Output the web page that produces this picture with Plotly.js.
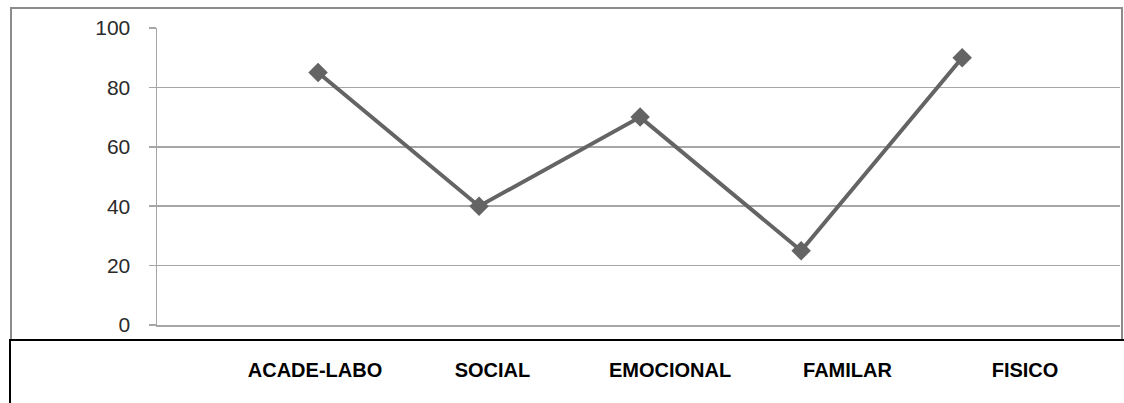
<!DOCTYPE html>
<html>
<head>
<meta charset="utf-8">
<script src="https://cdn.plot.ly/plotly-3.0.1.min.js"></script>
<style>html,body{margin:0;padding:0;background:#fff;}#chart{width:1124px;height:403px;}</style>
</head>
<body>
<div id="chart"></div>
<script>
// ---- data ----
var categories = ["ACADE-LABO", "SOCIAL", "EMOCIONAL", "FAMILAR", "FISICO"];
var values = [85, 40, 70, 25, 90];
var yTickValues = [0, 20, 40, 60, 80, 100];
var yTickLabels = ["0", "20", "40", "60", "80", "100"];

// ---- layout geometry (pixels) ----
var W = 1124, H = 403;
var L = 157, R = 1120, T = 28, B = 325;
function px(x) { return (x - L) / (R - L); }
function py(y) { return (B - y) / (B - T); }

var lineColor = "#646464";
var gridColor = "#a6a6a6";

var traces = [
  {
    x: categories,
    y: values,
    type: "scatter",
    mode: "lines+markers",
    line: { color: lineColor, width: 4 },
    marker: { symbol: "diamond", size: 15, color: lineColor },
    xaxis: "x",
    yaxis: "y",
    hoverinfo: "x+y"
  },
  {
    x: categories,
    y: values,
    type: "scatter",
    mode: "markers",
    marker: { opacity: 0, size: 1 },
    xaxis: "x2",
    yaxis: "y",
    hoverinfo: "skip",
    showlegend: false
  }
];

var n = categories.length;
var layout = {
  width: W,
  height: H,
  margin: { l: L, r: W - R, t: T, b: H - B, pad: 0 },
  paper_bgcolor: "#ffffff",
  plot_bgcolor: "#ffffff",
  showlegend: false,
  font: { family: "Liberation Sans, Arial, sans-serif", color: "#333333" },
  xaxis: {
    type: "category",
    range: [-1, n - 0.02],
    showgrid: false,
    zeroline: false,
    showticklabels: false,
    ticks: "",
    showline: true,
    linecolor: gridColor,
    linewidth: 1.5,
    fixedrange: true
  },
  xaxis2: {
    type: "category",
    overlaying: "x",
    anchor: "free",
    position: 0,
    side: "bottom",
    range: [-(315 - L) / 177.5, (n - 1) + (R - 1025) / 177.5],
    showgrid: false,
    zeroline: false,
    showline: false,
    ticks: "",
    ticklabelstandoff: 31,
    tickfont: { family: "Liberation Sans, Arial, sans-serif", size: 20, color: "#000000", weight: "bold" },
    fixedrange: true
  },
  yaxis: {
    range: [0, 100],
    tickvals: yTickValues,
    ticktext: yTickLabels,
    showgrid: true,
    gridcolor: gridColor,
    gridwidth: 1.5,
    zeroline: false,
    showline: true,
    linecolor: gridColor,
    linewidth: 1.5,
    ticks: "outside",
    ticklen: 7,
    tickcolor: gridColor,
    tickwidth: 1.5,
    ticklabelstandoff: 14,
    tickfont: { family: "Liberation Sans, Arial, sans-serif", size: 21, color: "#2a2a2a" },
    fixedrange: true
  },
  shapes: [
    // outer gray chart border
    {
      type: "rect", xref: "paper", yref: "paper",
      x0: px(11), x1: px(1122), y0: py(340), y1: py(8),
      line: { color: "#8c8c8c", width: 2 }, fillcolor: "rgba(0,0,0,0)", layer: "below"
    },
    // black table top line
    {
      type: "line", xref: "paper", yref: "paper",
      x0: px(9), x1: px(1124), y0: py(340), y1: py(340),
      line: { color: "#000000", width: 2 }
    },
    // black table left line
    {
      type: "line", xref: "paper", yref: "paper",
      x0: px(10), x1: px(10), y0: py(340), y1: py(404),
      line: { color: "#000000", width: 2 }
    }
  ]
};

Plotly.newPlot("chart", traces, layout, { displayModeBar: false, staticPlot: true });
</script>
</body>
</html>
